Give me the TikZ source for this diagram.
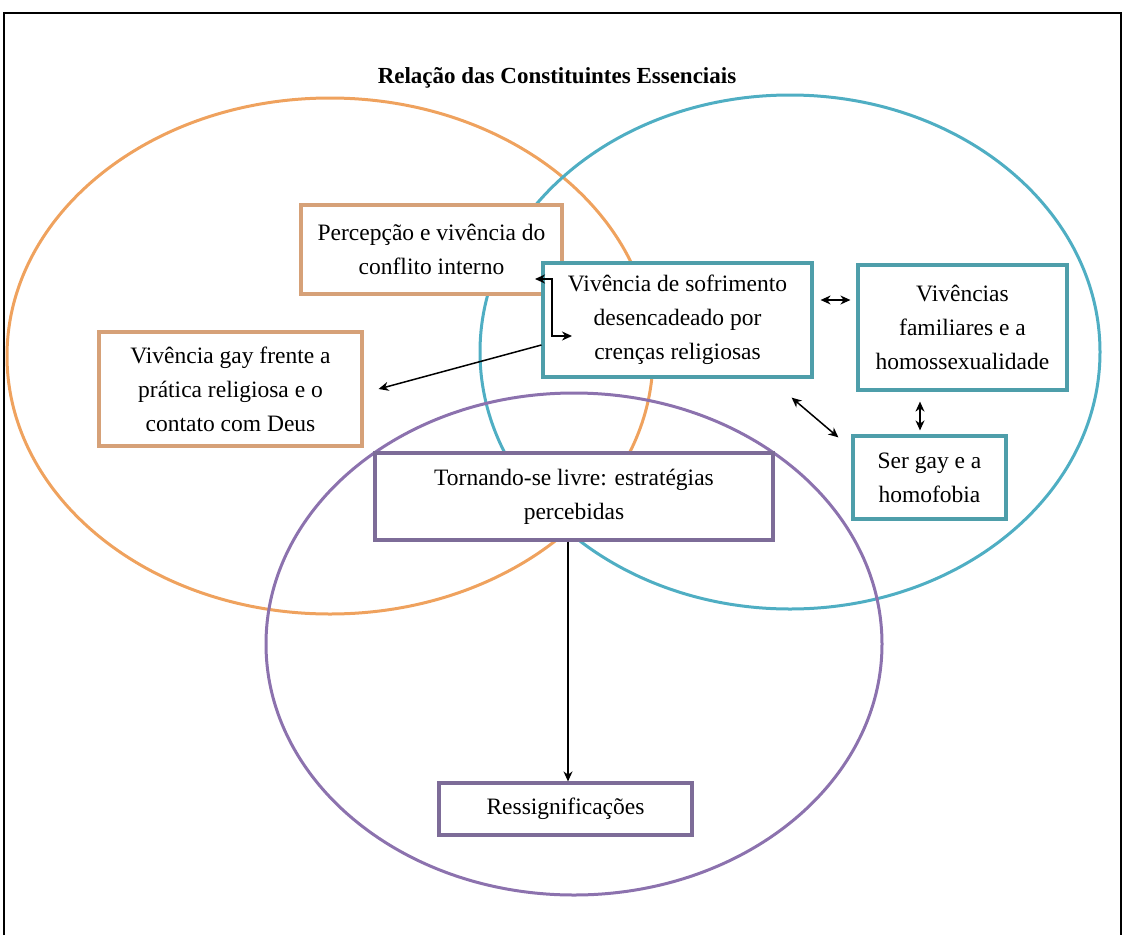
\documentclass[tikz,border=0pt]{standalone}
\usepackage{fontspec}
\setmainfont{Liberation Serif}
\usetikzlibrary{arrows.meta}
\definecolor{orgE}{HTML}{EFA25E}
\definecolor{orgB}{HTML}{D6A178}
\definecolor{tealE}{HTML}{4FAEC3}
\definecolor{tealB}{HTML}{4E9EAA}
\definecolor{purE}{HTML}{8C72AE}
\definecolor{purB}{HTML}{7D6C98}
\begin{document}
\begin{tikzpicture}[x=1pt,y=-1pt,
  box/.style={draw, fill=white, line width=3.2pt, align=center, inner sep=0pt,
    font=\fontsize{23.5}{34}\selectfont},
  ell/.style={line width=3pt},
  arr/.style={line width=1.5pt, -{Stealth[length=10pt,width=9pt]}},
  darr/.style={line width=1.5pt, {Stealth[length=10pt,width=9pt]}-{Stealth[length=10pt,width=9pt]}},
]
\useasboundingbox (0,0) rectangle (1125,935);
\draw[line width=2.5pt] (4,935) -- (4,13) -- (1121,13) -- (1121,935);

\node[font=\fontsize{23}{27}\selectfont\bfseries] (title) at (557,78) {Relação das Constituintes Essenciais};

\draw[ell, orgE] (330,356) ellipse [x radius=323pt, y radius=258pt];
\draw[ell, tealE] (790,352) ellipse [x radius=310pt, y radius=257pt];
\draw[ell, purE] (574,644) ellipse [x radius=308pt, y radius=251pt];

\node[box, draw=orgB, minimum width=261pt, minimum height=89pt] (perc) at (431.5,249.5)
  {Percepção e vivência do\\conflito interno};
\node[box, draw=orgB, minimum width=263pt, minimum height=114pt] (gay) at (230.5,389)
  {Vivência gay frente a\\prática religiosa e o\\contato com Deus};
\node[box, draw=tealB, minimum width=269pt, minimum height=114pt] (sofr) at (677.5,320)
  {Vivência de sofrimento\\desencadeado por\\crenças religiosas};
\node[box, draw=tealB, minimum width=209pt, minimum height=125pt] (fam) at (962.5,327.5)
  {Vivências\\familiares e a\\homossexualidade};
\node[box, draw=tealB, minimum width=153pt, minimum height=83pt] (ser) at (929.5,477.5)
  {Ser gay e a\\homofobia};
\node[box, draw=purB, minimum width=398pt, minimum height=87pt] (torn) at (574,496.5)
  {Tornando-se livre: estratégias\\percebidas};
\node[box, draw=purB, minimum width=253pt, minimum height=52pt] (ress) at (565.5,809)
  {Ressignificações};

\coordinate (pa) at (535,279);
\coordinate (pb) at (552,336);
\coordinate (pc) at (572,336);
\draw[darr] (pa) -| (pb) -- (pc);
\draw[arr] ([yshift=-25pt]sofr.west) -- ([xshift=15pt]gay.east);
\draw[darr] ([shift={(7pt,20pt)}]sofr.east) -- ([shift={(-6pt,27.5pt)}]fam.west);
\draw[darr] ([shift={(-22pt,-19pt)}]sofr.south east) -- ([shift={(-13pt,-3pt)}]ser.north west);
\draw[darr] ([shift={(-42.5pt,-10pt)}]fam.south) -- ([shift={(-9.5pt,4pt)}]ser.north);
\draw[arr] ([xshift=-6pt]torn.south) -- ([xshift=-6pt]torn.south |- ress.north);
\end{tikzpicture}
\end{document}
